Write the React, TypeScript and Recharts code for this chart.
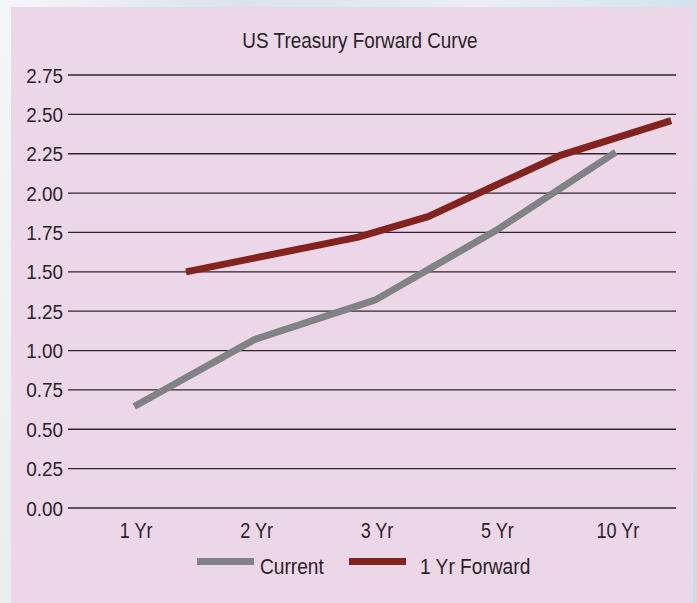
import React from 'react';
import { LineChart, Line, XAxis, YAxis, CartesianGrid } from 'recharts';

const categories = ['1 Yr', '2 Yr', '3 Yr', '5 Yr', '10 Yr'];
const yTicks = [0, 0.25, 0.5, 0.75, 1.0, 1.25, 1.5, 1.75, 2.0, 2.25, 2.5, 2.75];

// x positions are category indices (1 = "1 Yr" ... 5 = "10 Yr")
const currentX = [1, 2, 3, 4, 5];
const currentValues = [0.645, 1.07, 1.32, 1.76, 2.26];

const forwardX = [1.43, 2.86, 3.44, 4.54, 5.46];
const forwardValues = [1.5, 1.72, 1.85, 2.24, 2.46];

const FONT = "'Liberation Sans', Arial, sans-serif";
const TEXT = '#2a2326';
const SX = 0.82;

const series = [
  { name: 'Current', color: '#808284', data: currentX.map((x, i) => ({ x, y: currentValues[i] })) },
  { name: '1 Yr Forward', color: '#83231d', data: forwardX.map((x, i) => ({ x, y: forwardValues[i] })) },
];

const XTick = (props: any) => {
  const { x, y, payload } = props;
  return (
    <g transform={`translate(${x + 2},${y}) scale(${SX},1)`}>
      <text x={0} y={0} dy={22} textAnchor="middle" fill={TEXT} fontSize={22} fontFamily={FONT}>
        {categories[payload.value - 1]}
      </text>
    </g>
  );
};

const YTick = (props: any) => {
  const { x, y, payload } = props;
  return (
    <g transform={`translate(${x + 5},${y}) scale(0.9,1)`}>
      <text x={0} y={0} dy={7.5} textAnchor="end" fill={TEXT} fontSize={21} fontFamily={FONT}>
        {Number(payload.value).toFixed(2)}
      </text>
    </g>
  );
};

const legendPos = [
  { swatch: 197, text: 260 },
  { swatch: 349, text: 420 },
];

export default function App() {
  return (
    <div
      style={{
        position: 'absolute',
        left: 0,
        top: 0,
        width: 697,
        height: 603,
        background: 'linear-gradient(100deg, #f4f7f9 0%, #d9e3ea 30%, #e9eff3 60%, #c7dcea 100%)',
        overflow: 'hidden',
      }}
    >
      <div
        style={{
          position: 'absolute',
          left: 11,
          top: 7,
          width: 682,
          height: 596,
          background: '#ecd7e9',
        }}
      />
      <div
        style={{
          position: 'absolute',
          left: 360,
          top: 27,
          transform: `translateX(-50%) scaleX(0.84)`,
          whiteSpace: 'nowrap',
          fontFamily: FONT,
          fontSize: 22.5,
          color: TEXT,
          lineHeight: '28px',
        }}
      >
        US Treasury Forward Curve
      </div>
      <div style={{ position: 'absolute', left: 0, top: 0 }}>
        <LineChart width={697} height={603} margin={{ top: 75, right: 21, bottom: 55, left: 0 }}>
          <CartesianGrid horizontal vertical={false} stroke="#2e2629" strokeWidth={1.3} />
          <XAxis
            type="number"
            dataKey="x"
            domain={[0.45, 5.5]}
            ticks={[1, 2, 3, 4, 5]}
            allowDataOverflow
            axisLine={false}
            tickLine={false}
            tick={<XTick />}
            height={40}
            interval={0}
          />
          <YAxis
            type="number"
            domain={[0, 2.75]}
            ticks={yTicks}
            width={68}
            axisLine={false}
            tickLine={false}
            tickMargin={4}
            tick={<YTick />}
            interval={0}
          />
          {series.map((s) => (
            <Line
              key={s.name}
              data={s.data}
              dataKey="y"
              name={s.name}
              stroke={s.color}
              strokeWidth={7}
              dot={false}
              activeDot={false}
              type="linear"
              isAnimationActive={false}
              strokeLinejoin="miter"
            />
          ))}
        </LineChart>
      </div>
      {series.map((s, i) => (
        <React.Fragment key={s.name}>
          <div
            style={{
              position: 'absolute',
              left: legendPos[i].swatch,
              top: 558,
              width: 57,
              height: 7,
              background: s.color,
            }}
          />
          <div
            style={{
              position: 'absolute',
              left: legendPos[i].text,
              top: 553,
              transform: `scaleX(0.87)`,
              transformOrigin: 'left center',
              whiteSpace: 'nowrap',
              fontFamily: FONT,
              fontSize: 22,
              lineHeight: '28px',
              color: TEXT,
            }}
          >
            {s.name}
          </div>
        </React.Fragment>
      ))}
    </div>
  );
}
